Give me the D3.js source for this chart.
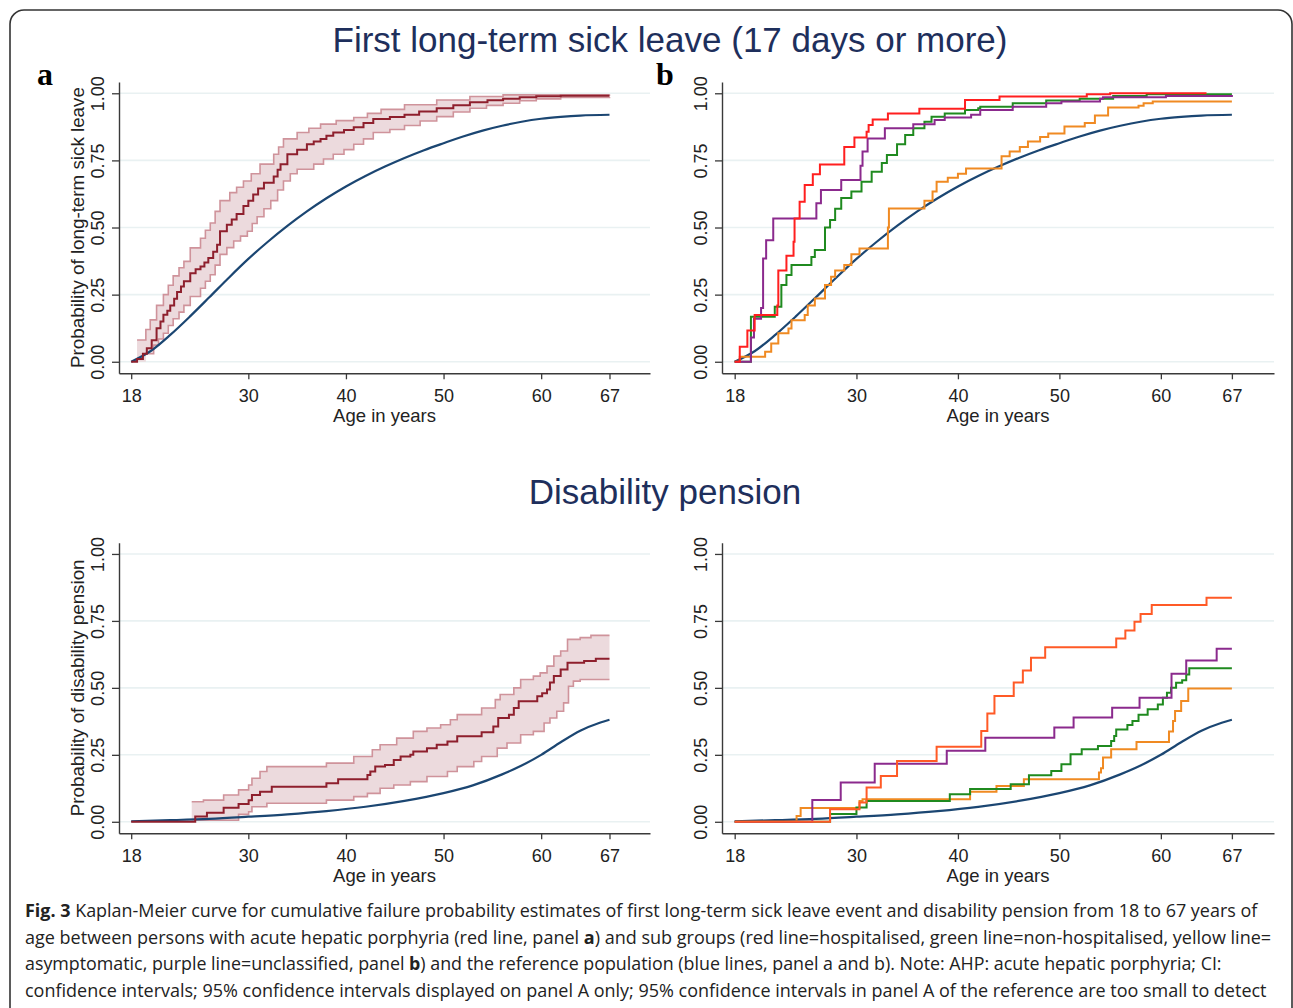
<!DOCTYPE html>
<html>
<head>
<meta charset="utf-8">
<script src="https://cdn.jsdelivr.net/npm/d3@7"></script>
<style>
  body { margin: 0; background: #fff; }
  svg text { font-family: "Liberation Sans", Arial, sans-serif; }
</style>
</head>
<body>
<svg id="fig" width="1293" height="1008"></svg>
<script>
/* Kaplan-Meier cumulative failure curves, sick leave + disability pension */

// x ticks and y ticks shared by all four panels
const X_TICKS = [18, 30, 40, 50, 60, 67];
const Y_TICKS = [0, 0.25, 0.5, 0.75, 1];

// ---- panel a: first long-term sick leave, AHP (step) + 95% CI ----
const sickAhp = [[18,0],[18.6,0.01],[19.2,0.03],[19.6,0.05],[20.1,0.08],[20.6,0.125],[21.0,0.15],[21.3,0.175],[21.7,0.19],[22.0,0.21],[22.4,0.235],[22.7,0.26],[23.1,0.28],[23.4,0.30],[24.05,0.33],[24.6,0.345],[25.1,0.355],[25.5,0.37],[25.9,0.386],[26.4,0.41],[26.8,0.436],[27.1,0.486],[27.8,0.51],[28.3,0.53],[28.8,0.55],[29.5,0.58],[30.0,0.60],[30.5,0.623],[31.0,0.645],[31.6,0.667],[32.6,0.69],[33.0,0.715],[33.3,0.736],[34.0,0.773],[35.0,0.79],[36.0,0.81],[36.7,0.82],[37.4,0.83],[38.0,0.842],[38.7,0.854],[39.8,0.863],[40.8,0.873],[41.8,0.889],[42.8,0.904],[44.5,0.912],[46,0.92],[47.5,0.932],[49.3,0.944],[51,0.955],[52.7,0.967],[54.5,0.974],[56.1,0.98],[57.8,0.985],[59.5,0.989],[62,0.991],[67,0.991]];
const sickAhpHi = [[18,0],[18.6,0.081],[19.5,0.12],[19.95,0.156],[20.6,0.21],[21.3,0.25],[21.8,0.285],[22.3,0.32],[22.9,0.35],[23.4,0.374],[24.05,0.424],[25.1,0.46],[25.6,0.49],[26.1,0.517],[26.6,0.56],[27.1,0.6],[28.1,0.63],[28.8,0.65],[29.5,0.673],[30.3,0.7],[31.2,0.736],[32.6,0.773],[33.1,0.8],[33.6,0.83],[35,0.854],[36.2,0.87],[37.4,0.885],[39,0.898],[40.8,0.91],[42.2,0.925],[43.6,0.94],[46,0.957],[49.3,0.975],[52.7,0.988],[56.1,0.994],[67,0.995]];
const sickAhpLo = [[18,0],[19.5,0.03],[20.3,0.062],[20.8,0.085],[21.3,0.106],[21.8,0.135],[22.3,0.16],[22.9,0.185],[23.4,0.21],[24.05,0.243],[25.1,0.274],[25.6,0.3],[26.1,0.324],[26.6,0.36],[27.1,0.4],[27.8,0.425],[28.5,0.45],[29.2,0.468],[29.9,0.486],[30.4,0.515],[30.9,0.54],[31.6,0.57],[32.3,0.6],[33.0,0.64],[33.6,0.673],[34.3,0.7],[35,0.717],[36.7,0.736],[37.7,0.755],[38.7,0.773],[39.8,0.79],[40.8,0.81],[41.8,0.83],[42.8,0.854],[44.5,0.865],[46,0.88],[47.6,0.897],[49.3,0.913],[51,0.93],[52.7,0.944],[54.4,0.955],[56.1,0.963],[57.8,0.972],[59.5,0.979],[62,0.984],[67,0.986]];
// reference population (smooth)
const sickRef = [[18,0],[20,0.04],[22,0.1],[24,0.168],[26,0.24],[28,0.313],[30,0.383],[32,0.447],[34,0.506],[36,0.56],[38,0.609],[40,0.653],[42,0.692],[44,0.727],[46,0.759],[48,0.788],[50,0.814],[52,0.839],[54,0.861],[56,0.879],[58,0.894],[60,0.905],[62,0.912],[64,0.917],[67,0.92]];

// ---- panel b: sick leave by subgroup ----
const sickHosp = [[18,0],[18.5,0.056],[19.25,0.116],[19.97,0.174],[22.2,0.21],[22.3,0.34],[23.1,0.395],[23.8,0.447],[23.9,0.534],[24.4,0.596],[24.9,0.658],[25.7,0.698],[26.4,0.735],[28.8,0.80],[29.8,0.835],[31.0,0.857],[31.2,0.882],[31.6,0.902],[33.1,0.925],[36.2,0.942],[40.7,0.975],[44.1,0.988],[52.7,0.996],[55,1.0],[64.5,1.0]];
const sickNonHosp = [[18,0],[19.6,0.168],[21.95,0.205],[22.6,0.286],[23.1,0.323],[23.6,0.36],[25.56,0.39],[25.9,0.416],[26.9,0.5],[27.4,0.528],[27.9,0.57],[28.5,0.61],[29.5,0.634],[30.5,0.67],[31.5,0.708],[32.5,0.74],[33.0,0.77],[34.0,0.81],[34.8,0.845],[35.6,0.87],[36.7,0.894],[37.4,0.913],[38.7,0.925],[40.7,0.938],[42.0,0.944],[42.2,0.95],[45.4,0.963],[48.7,0.973],[52.0,0.98],[55.3,0.99],[58.6,0.996],[67,0.996]];
const sickAsympt = [[18,0],[18.5,0.019],[21.0,0.037],[21.6,0.068],[22.3,0.106],[23.3,0.124],[23.6,0.155],[24.9,0.174],[25.2,0.21],[25.9,0.236],[26.9,0.286],[27.5,0.317],[27.9,0.34],[28.8,0.36],[29.5,0.4],[30.3,0.422],[33.1,0.5],[33.2,0.571],[36.7,0.6],[37.5,0.634],[37.9,0.67],[39.0,0.685],[40.0,0.70],[40.8,0.72],[44.3,0.765],[45.1,0.783],[46.1,0.8],[46.9,0.82],[48.1,0.837],[48.9,0.85],[50.5,0.876],[52.5,0.889],[53.5,0.917],[54.8,0.947],[57.8,0.954],[58.3,0.963],[59.2,0.969],[67,0.969]];
const sickUnclass = [[18,0],[19.6,0.09],[19.9,0.16],[20.6,0.2],[20.8,0.385],[21.1,0.453],[21.8,0.534],[26.05,0.59],[26.5,0.64],[28.5,0.677],[30.4,0.73],[30.6,0.783],[31.1,0.832],[32.8,0.87],[35.6,0.885],[37.7,0.9],[38.7,0.91],[41.3,0.92],[42.2,0.938],[45.4,0.95],[48.7,0.963],[50.2,0.969],[54,0.98],[54.3,0.985],[60.5,0.99],[67,0.994]];

// ---- panel c: disability pension, AHP (step) + 95% CI ----
const disAhp = [[18,0],[24.56,0.02],[25.76,0.034],[27.47,0.052],[29.0,0.066],[30.03,0.08],[30.37,0.1],[31.2,0.1125],[32.4,0.131],[38.0,0.144],[39.2,0.159],[42.2,0.175],[42.5,0.1875],[43.0,0.206],[44.0,0.212],[44.9,0.231],[45.6,0.244],[46.6,0.25],[46.9,0.2625],[48.3,0.275],[49.3,0.2875],[50.4,0.3],[51.4,0.319],[53.9,0.334],[55.1,0.356],[55.6,0.3875],[56.7,0.4],[57.2,0.425],[57.7,0.45],[59.6,0.469],[60.1,0.48],[60.6,0.494],[60.9,0.52],[61.3,0.544],[62.0,0.569],[62.7,0.594],[64.4,0.6],[65.6,0.609],[67,0.609]];
const disAhpHi = [[18,0],[24.2,0.075],[25.4,0.081],[27.47,0.1],[29.0,0.119],[30.03,0.1375],[30.37,0.1625],[31.2,0.1875],[31.9,0.206],[38.0,0.219],[40.8,0.244],[42.7,0.269],[43.5,0.2875],[45.2,0.3125],[46.9,0.3375],[48.3,0.35],[49.7,0.3625],[50.7,0.381],[51.4,0.4],[53.9,0.425],[55.3,0.456],[55.8,0.475],[57.2,0.5],[57.9,0.531],[59.2,0.544],[59.9,0.556],[60.6,0.581],[61.3,0.619],[62.0,0.6375],[62.7,0.681],[64.0,0.6875],[65.1,0.696],[67,0.696]];
const disAhpLo = [[18,0],[24.56,0.006],[29.0,0.0275],[30.03,0.0375],[30.37,0.056],[31.9,0.069],[38.0,0.081],[40.8,0.094],[42.2,0.106],[43.5,0.125],[44.9,0.1375],[46.6,0.15],[48.3,0.169],[50.4,0.1875],[51.4,0.206],[53.1,0.225],[53.9,0.244],[55.5,0.275],[56.5,0.294],[57.9,0.325],[59.2,0.3375],[60.3,0.369],[60.9,0.3875],[61.6,0.4125],[62.3,0.444],[62.8,0.506],[63.3,0.525],[64,0.531],[67,0.531]];
const disRef = [[18,0.002],[22,0.006],[26,0.011],[30,0.019],[34,0.028],[38,0.04],[42,0.056],[46,0.078],[50,0.107],[53,0.136],[56,0.177],[58,0.21],[60,0.25],[62,0.297],[64,0.34],[66,0.37],[67,0.381]];

// ---- panel d: disability pension by subgroup ----
const disHosp = [[18,0],[27.4,0.047],[30.3,0.072],[31.0,0.128],[32.4,0.171],[34.0,0.227],[37.9,0.28],[42.3,0.339],[42.9,0.404],[43.6,0.47],[45.5,0.52],[46.4,0.565],[47.2,0.612],[48.6,0.652],[55.6,0.684],[56.5,0.714],[57.4,0.747],[58.0,0.776],[59.1,0.809],[64.5,0.836],[67,0.836]];
const disNonHosp = [[18,0],[27.4,0.029],[30.0,0.053],[31.0,0.078],[39.2,0.103],[41.2,0.122],[45.2,0.14],[47.0,0.174],[49.2,0.19],[50.2,0.215],[51.1,0.252],[52.2,0.271],[53.8,0.283],[55.1,0.302],[55.4,0.32],[55.6,0.345],[56.7,0.361],[57.2,0.376],[57.8,0.4],[58.7,0.42],[59.7,0.438],[60.2,0.463],[60.6,0.482],[61.0,0.5],[61.5,0.519],[62.1,0.528],[62.5,0.55],[62.8,0.573],[67,0.573]];
const disAsympt = [[18,0],[24.1,0.022],[24.5,0.051],[30.3,0.078],[30.6,0.084],[41.2,0.112],[43.8,0.134],[46.5,0.159],[53.9,0.184],[54.1,0.2],[54.3,0.24],[55.1,0.271],[57.6,0.298],[60.8,0.337],[61.2,0.376],[61.4,0.414],[62.0,0.451],[62.7,0.498],[67,0.498]];
const disUnclass = [[18,0],[25.65,0.081],[28.45,0.147],[31.8,0.217],[38.9,0.265],[42.7,0.314],[49.5,0.352],[51.4,0.389],[55.2,0.426],[57.9,0.463],[61.05,0.553],[62.5,0.602],[65.5,0.646],[67,0.646]];

const CAPTION = [
  [["b","Fig. 3"],["n"," Kaplan-Meier curve for cumulative failure probability estimates of first long-term sick leave event and disability pension from 18 to 67 years of"]],
  [["n","age between persons with acute hepatic porphyria (red line, panel "],["b","a"],["n",") and sub groups (red line=hospitalised, green line=non-hospitalised, yellow line="]],
  [["n","asymptomatic, purple line=unclassified, panel "],["b","b"],["n",") and the reference population (blue lines, panel a and b). Note: AHP: acute hepatic porphyria; CI:"]],
  [["n","confidence intervals; 95% confidence intervals displayed on panel A only; 95% confidence intervals in panel A of the reference are too small to detect"]]
];
const CAPTION_END = [1258, 1272, 1222, 1267];

const C = {
  ahp: "#8e1f2d", ciLine: "#cf939b", ciFill: "#ecdadd", ref: "#1b4672",
  hosp: "#ff1f1f", hosp2: "#ff5a26", nonHosp: "#1f8a1f", asympt: "#f08a22", unclass: "#8b2a8d",
  grid: "#e9f1f2", axis: "#3a3a3a", title: "#1e2f5c"
};

const svg = d3.select("#fig");

// outer frame
svg.append("rect")
  .attr("x", 10).attr("y", 10).attr("width", 1282).attr("height", 1020)
  .attr("rx", 14).attr("fill", "none").attr("stroke", "#333").attr("stroke-width", 1.6);

// titles
svg.append("text").attr("x", 670).attr("y", 52).attr("text-anchor", "middle")
  .attr("font-size", 35).attr("fill", C.title)
  .text("First long-term sick leave (17 days or more)");
svg.append("text").attr("x", 665).attr("y", 504).attr("text-anchor", "middle")
  .attr("font-size", 35).attr("fill", C.title)
  .text("Disability pension");

// panel letters
[["a", 45], ["b", 665]].forEach(([t, x]) => {
  svg.append("text").attr("x", x).attr("y", 85).attr("text-anchor", "middle")
    .style("font-family", "'Liberation Serif', 'Times New Roman', serif")
    .attr("font-weight", "bold").attr("font-size", 32).text(t);
});

function stepAt(arr, t) {
  let v = 0;
  for (const p of arr) { if (p[0] <= t) v = p[1]; else break; }
  return v;
}

function panel(box, opts) {
  const x = d3.scaleLinear().domain([16.75, 71.15]).range([box.x0, box.x1]);
  const y = d3.scaleLinear().domain([-0.043, 1.042]).range([box.y1, box.y0]);
  const g = svg.append("g");

  // gridlines
  g.selectAll(".grid").data(Y_TICKS).join("line")
    .attr("x1", box.x0).attr("x2", box.x1)
    .attr("y1", d => y(d)).attr("y2", d => y(d))
    .attr("stroke", C.grid).attr("stroke-width", 1.6);

  // CI band
  if (opts.hi) {
    const ages = Array.from(new Set([...opts.hi, ...opts.lo].map(d => d[0]))).sort((a, b) => a - b)
      .filter(a => a >= opts.bandStart);
    const band = ages.map(a => ({ a, hi: stepAt(opts.hi, a), lo: stepAt(opts.lo, a) }));
    g.append("path").datum(band)
      .attr("d", d3.area().curve(d3.curveStepAfter)
        .x(d => x(d.a)).y0(d => y(d.lo)).y1(d => y(d.hi)))
      .attr("fill", C.ciFill);
    const bandLine = d3.line().curve(d3.curveStepAfter).x(d => x(d[0])).y(d => y(d[1]));
    [opts.hi, opts.lo].forEach(s => {
      g.append("path").datum(s.filter(d => d[0] >= opts.bandStart || d[1] > 0))
        .attr("d", bandLine).attr("fill", "none")
        .attr("stroke", C.ciLine).attr("stroke-width", 1.6);
    });
  }

  // reference population
  g.append("path").datum(opts.ref)
    .attr("d", d3.line().curve(d3.curveMonotoneX).x(d => x(d[0])).y(d => y(d[1])))
    .attr("fill", "none").attr("stroke", C.ref).attr("stroke-width", 2.2);

  // step series
  const step = d3.line().curve(d3.curveStepAfter).x(d => x(d[0])).y(d => y(d[1]));
  opts.series.forEach(s => {
    g.append("path").datum(s.data).attr("d", step)
      .attr("fill", "none").attr("stroke", s.color).attr("stroke-width", 2);
  });

  // axes
  const ax = g.append("g").attr("transform", `translate(0,${box.y1})`)
    .call(d3.axisBottom(x).tickValues(X_TICKS).tickSize(6).tickSizeOuter(0));
  ax.select(".domain").attr("stroke", C.axis).attr("stroke-width", 1.4);
  ax.selectAll(".tick line").attr("stroke", C.axis).attr("stroke-width", 1.3);
  ax.selectAll(".tick text").attr("y", 29).attr("dy", null)
    .attr("font-size", 18).attr("fill", "#222")
    .style("font-family", "'Liberation Sans', Arial, sans-serif");

  const ay = g.append("g").attr("transform", `translate(${box.x0},0)`)
    .call(d3.axisLeft(y).tickValues(Y_TICKS).tickSize(7).tickSizeOuter(0).tickFormat(d3.format(".2f")));
  ay.select(".domain").attr("stroke", C.axis).attr("stroke-width", 1.4);
  ay.selectAll(".tick line").attr("stroke", C.axis).attr("stroke-width", 1.3);
  ay.selectAll(".tick text").attr("x", null).attr("dy", null)
    .attr("transform", "translate(-15,0) rotate(-90)").attr("text-anchor", "middle")
    .attr("font-size", 18).attr("fill", "#222")
    .style("font-family", "'Liberation Sans', Arial, sans-serif");

  g.append("text").attr("x", (box.x0 + box.x1) / 2).attr("y", box.y1 + 49)
    .attr("text-anchor", "middle").attr("font-size", 18.5).attr("fill", "#222")
    .text("Age in years");

  if (opts.ylabel) {
    g.append("text")
      .attr("transform", `translate(${box.x0 - 35},${(y(0) + y(1)) / 2}) rotate(-90)`)
      .attr("text-anchor", "middle").attr("font-size", 18.8).attr("fill", "#222")
      .text(opts.ylabel);
  }
}

panel({ x0: 119, x1: 650, y0: 82, y1: 373.3 }, {
  ref: sickRef, hi: sickAhpHi, lo: sickAhpLo, bandStart: 18.6,
  series: [{ data: sickAhp, color: C.ahp }],
  ylabel: "Probability of long-term sick leave"
});
panel({ x0: 722, x1: 1274, y0: 82, y1: 373.3 }, {
  ref: sickRef,
  series: [
    { data: sickAsympt, color: C.asympt },
    { data: sickNonHosp, color: C.nonHosp },
    { data: sickUnclass, color: C.unclass },
    { data: sickHosp, color: C.hosp }
  ]
});
panel({ x0: 119, x1: 650, y0: 542.7, y1: 833.3 }, {
  ref: disRef, hi: disAhpHi, lo: disAhpLo, bandStart: 24.2,
  series: [{ data: disAhp, color: C.ahp }],
  ylabel: "Probability of disability pension"
});
panel({ x0: 722, x1: 1274, y0: 542.7, y1: 833.3 }, {
  ref: disRef,
  series: [
    { data: disAsympt, color: C.asympt },
    { data: disNonHosp, color: C.nonHosp },
    { data: disUnclass, color: C.unclass },
    { data: disHosp, color: C.hosp2 }
  ]
});

// caption: segments laid out one after another at their natural width;
// font size per line is chosen so the line ends where the reference line ends
const BASE = [917, 943.5, 970, 996.5];
CAPTION.forEach((parts, i) => {
  const segs = parts.map(([w, s]) => svg.append("text").attr("y", BASE[i])
    .attr("font-size", 19).attr("fill", "#222")
    .attr("font-weight", w === "b" ? "bold" : null)
    .style("font-family", "'Open Sans', 'Noto Sans', sans-serif")
    .style("white-space", "pre")
    .text(s));
  const natural = d3.sum(segs, t => t.node().getComputedTextLength());
  const fs = Math.min(19, 19 * (CAPTION_END[i] - 25) / natural);
  let cx = 25;
  segs.forEach(t => {
    t.attr("font-size", fs).attr("x", cx);
    cx += t.node().getComputedTextLength();
  });
});
</script>
</body>
</html>
